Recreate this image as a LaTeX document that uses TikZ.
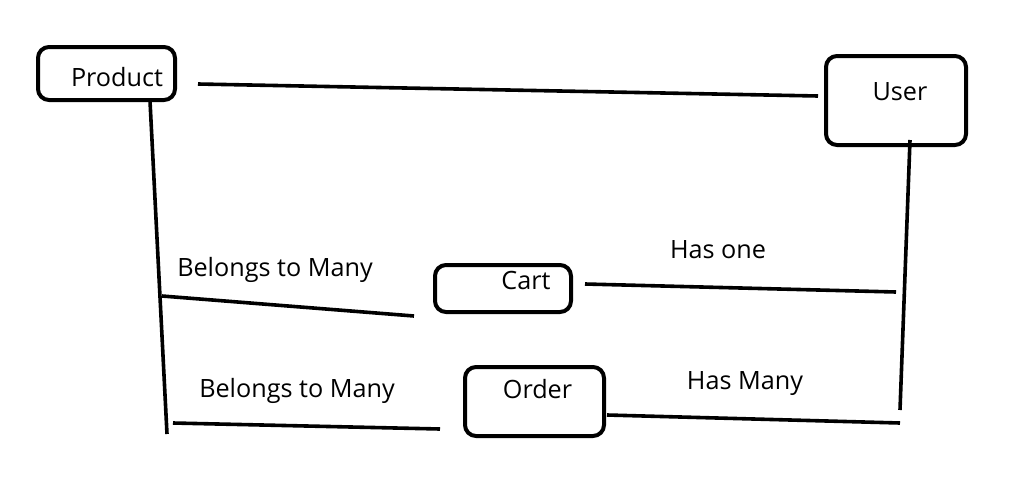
\documentclass[tikz,border=0pt]{standalone}
\usepackage{fontspec}
\setmainfont{Open Sans}
\begin{document}
\begin{tikzpicture}[x=1pt,y=-1pt,
  box/.style={draw=black,line width=4pt,rounded corners=11pt,inner sep=0pt},
  lbl/.style={anchor=base,inner sep=0pt,font=\fontsize{25.2}{29}\selectfont},
  link/.style={draw=black,line width=3.6pt}]
\useasboundingbox[fill=white] (0,0) rectangle (1022,482);
% boxes
\node[box,minimum width=137pt,minimum height=53pt] (product) at (106.5,73.5) {};
\node[box,minimum width=140pt,minimum height=89pt] (user) at (896,100.5) {};
\node[box,minimum width=136pt,minimum height=47pt] (cart) at (503,288.5) {};
\node[box,minimum width=139pt,minimum height=69pt] (order) at (534.5,401.5) {};
% box texts
\node[lbl] (productt) at (117,86) {Product};
\node[lbl] (usert) at (900,100) {User};
\node[lbl] (cartt) at (526,289) {Cart};
\node[lbl] (ordert) at (537.5,398) {Order};
% relation labels
\node[lbl] (bm1) at (275,276) {Belongs to Many};
\node[lbl] (hasone) at (718,258) {Has one};
\node[lbl] (bm2) at (297,397) {Belongs to Many};
\node[lbl] (hasmany) at (745,389) {Has Many};
% connector end points
\coordinate (pu1) at (198,84);
\coordinate (pu2) at (818,96);
\coordinate (pv1) at (150,101);
\coordinate (pv2) at (167,434);
\coordinate (pc1) at (162,296);
\coordinate (pc2) at (414,316);
\coordinate (po1) at (173,423);
\coordinate (po2) at (440,429);
\coordinate (uv1) at (910,140);
\coordinate (uv2) at (900,410);
\coordinate (cu1) at (585,284);
\coordinate (cu2) at (896,292);
\coordinate (ou1) at (607,415);
\coordinate (ou2) at (900,423);
% connectors
\draw[link] (pu1) -- (pu2);
\draw[link] (pv1) -- (pv2);
\draw[link] (pc1) -- (pc2);
\draw[link] (po1) -- (po2);
\draw[link] (uv1) -- (uv2);
\draw[link] (cu1) -- (cu2);
\draw[link] (ou1) -- (ou2);
\end{tikzpicture}
\end{document}
